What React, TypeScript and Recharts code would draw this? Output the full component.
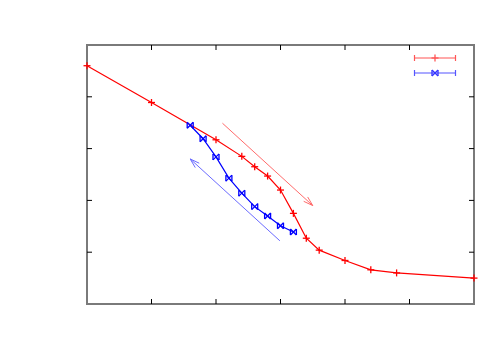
import React from "react";
import { LineChart, Line, XAxis, YAxis, ReferenceLine, ReferenceArea } from "recharts";

// axis ticks (labels are not shown in the reference)
const xTicks = [0, 1, 2, 3, 4, 5, 6];
const yTicks = [0, 1, 2, 3, 4, 5];

// red series (+ markers)
const redX = [0, 1, 2, 2.4, 2.6, 2.8, 3.0, 3.2, 3.4, 3.6, 4.0, 4.4, 4.8, 6.0];
const redY = [4.6, 3.89, 3.17, 2.85, 2.65, 2.47, 2.2, 1.75, 1.27, 1.04, 0.84, 0.66, 0.6, 0.5];

// blue series (x markers)
const blueX = [1.6, 1.8, 2.0, 2.2, 2.4, 2.6, 2.8, 3.0, 3.2];
const blueY = [3.45, 3.19, 2.84, 2.43, 2.14, 1.88, 1.7, 1.51, 1.39];

// direction arrows: [from, to]
const redArrow = [
  { x: 2.1, y: 3.49 },
  { x: 3.5, y: 1.9 },
];
const blueArrow = [
  { x: 2.99, y: 1.22 },
  { x: 1.6, y: 2.8 },
];

const redData = redX.map((x, i) => ({ x, y: redY[i] }));
const blueData = blueX.map((x, i) => ({ x, y: blueY[i] }));

const RED = "#ff0000";
const BLUE = "#0000ff";
const TICK = 5;

function PlusMark({ cx, cy, color }: { cx: number; cy: number; color: string }) {
  const s = 3.5;
  return (
    <g stroke={color} strokeWidth={1.3}>
      <line x1={cx - s} y1={cy} x2={cx + s} y2={cy} />
      <line x1={cx} y1={cy - s} x2={cx} y2={cy + s} />
    </g>
  );
}

function CrossMark({ cx, cy, color }: { cx: number; cy: number; color: string }) {
  const s = 3;
  return (
    <g stroke={color} strokeWidth={1.3}>
      <line x1={cx - s} y1={cy - s} x2={cx + s} y2={cy + s} />
      <line x1={cx - s} y1={cy + s} x2={cx + s} y2={cy - s} />
      <line x1={cx - s} y1={cy - s} x2={cx - s} y2={cy + s} />
      <line x1={cx + s} y1={cy - s} x2={cx + s} y2={cy + s} />
    </g>
  );
}

function arrowShape(color: string) {
  return (p: any) => {
    const { x1, y1, x2, y2 } = p;
    const ang = Math.atan2(y2 - y1, x2 - x1);
    const len = 10;
    const spread = 0.3;
    const ax = x2 - len * Math.cos(ang - spread);
    const ay = y2 - len * Math.sin(ang - spread);
    const bx = x2 - len * Math.cos(ang + spread);
    const by = y2 - len * Math.sin(ang + spread);
    return (
      <g stroke={color} strokeWidth={1} fill="none">
        <line x1={x1} y1={y1} x2={x2} y2={y2} />
        <polyline points={`${ax},${ay} ${x2},${y2} ${bx},${by}`} />
      </g>
    );
  };
}

// inward tick marks at both ends of a grid line
const vTick = (p: any) => {
  const top = Math.min(p.y1, p.y2);
  const bot = Math.max(p.y1, p.y2);
  return (
    <g stroke="#000" strokeWidth={1}>
      <line x1={p.x1} y1={top} x2={p.x1} y2={top + TICK} />
      <line x1={p.x1} y1={bot} x2={p.x1} y2={bot - TICK} />
    </g>
  );
};
const hTick = (p: any) => {
  const left = Math.min(p.x1, p.x2);
  const right = Math.max(p.x1, p.x2);
  return (
    <g stroke="#000" strokeWidth={1}>
      <line x1={left} y1={p.y1} x2={left + TICK} y2={p.y1} />
      <line x1={right} y1={p.y1} x2={right - TICK} y2={p.y1} />
    </g>
  );
};

export default function App() {
  return (
    <div style={{ position: "absolute", left: 0, top: 0, width: 500, height: 350, background: "#fff" }}>
      <LineChart width={500} height={350} margin={{ top: 45, right: 26, bottom: 46, left: 87 }}>
        <XAxis
          dataKey="x"
          type="number"
          domain={[0, 6]}
          ticks={xTicks}
          height={0}
          axisLine={false}
          tickLine={false}
          tick={false}
        />
        <YAxis
          type="number"
          domain={[0, 5]}
          ticks={yTicks}
          width={0}
          axisLine={false}
          tickLine={false}
          tick={false}
        />
        {xTicks.slice(1, -1).map((t) => (
          <ReferenceLine key={`xt${t}`} x={t} shape={vTick} />
        ))}
        {yTicks.slice(1, -1).map((t) => (
          <ReferenceLine key={`yt${t}`} y={t} shape={hTick} />
        ))}
        <ReferenceArea x1={0} x2={6} y1={0} y2={5} fill="none" stroke="#7a7a7a" strokeWidth={2} />
        <ReferenceLine segment={redArrow} shape={arrowShape("#ff6b6b")} />
        <ReferenceLine segment={blueArrow} shape={arrowShape("#6b6bff")} />
        <Line
          data={redData}
          dataKey="y"
          type="linear"
          stroke={RED}
          strokeWidth={1.2}
          isAnimationActive={false}
          dot={(p: any) => <PlusMark key={`r${p.index}`} cx={p.cx} cy={p.cy} color={RED} />}
        />
        <Line
          data={blueData}
          dataKey="y"
          type="linear"
          stroke={BLUE}
          strokeWidth={1.2}
          isAnimationActive={false}
          dot={(p: any) => <CrossMark key={`b${p.index}`} cx={p.cx} cy={p.cy} color={BLUE} />}
        />
        <g>
          <g stroke="#ff5555" strokeWidth={1.2}>
            <line x1={414.5} y1={58} x2={455.5} y2={58} />
            <line x1={414.5} y1={55} x2={414.5} y2={61} />
            <line x1={455.5} y1={55} x2={455.5} y2={61} />
          </g>
          <PlusMark cx={435} cy={58} color="#ff5555" />
          <g stroke="#5555ff" strokeWidth={1.2}>
            <line x1={414.5} y1={73} x2={455.5} y2={73} />
            <line x1={414.5} y1={70} x2={414.5} y2={76} />
            <line x1={455.5} y1={70} x2={455.5} y2={76} />
          </g>
          <CrossMark cx={435} cy={73} color="#3333ff" />
        </g>
      </LineChart>
    </div>
  );
}
